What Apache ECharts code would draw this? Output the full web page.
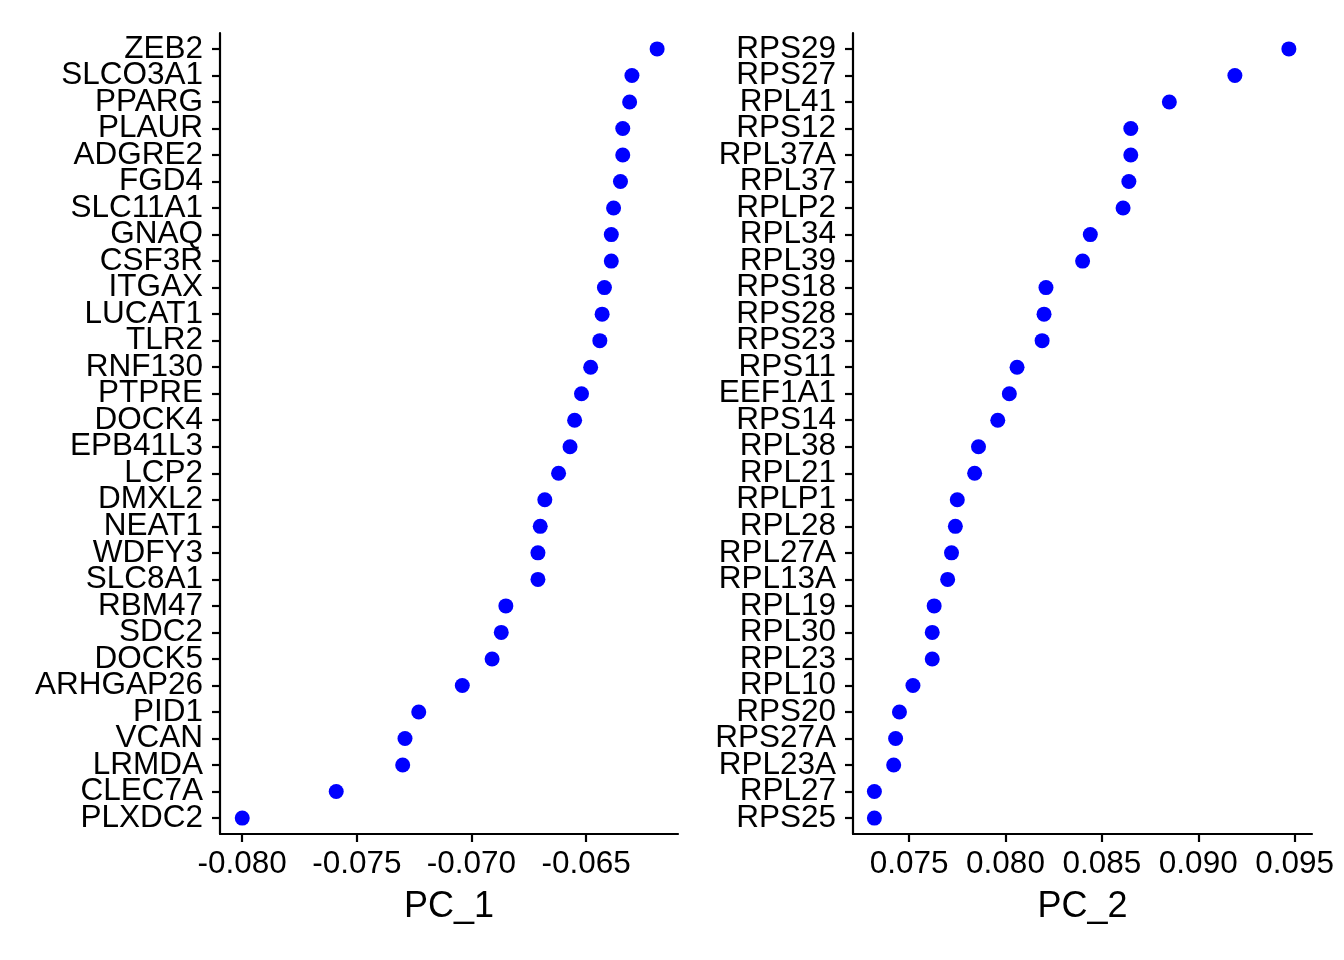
<!DOCTYPE html>
<html>
<head>
    <meta charset="utf-8">
    <script src="https://cdn.jsdelivr.net/npm/echarts@6/dist/echarts.min.js"></script>
    <style>
        body { margin: 0; background: #fff; }
    </style>
</head>
<body>
    <div id="main" style="width: 1344px;height:960px;"></div>
    <script type="text/javascript">
        // genes listed top to bottom
        var genes1 = ['ZEB2', 'SLCO3A1', 'PPARG', 'PLAUR', 'ADGRE2', 'FGD4', 'SLC11A1', 'GNAQ', 'CSF3R', 'ITGAX',
            'LUCAT1', 'TLR2', 'RNF130', 'PTPRE', 'DOCK4', 'EPB41L3', 'LCP2', 'DMXL2', 'NEAT1', 'WDFY3',
            'SLC8A1', 'RBM47', 'SDC2', 'DOCK5', 'ARHGAP26', 'PID1', 'VCAN', 'LRMDA', 'CLEC7A', 'PLXDC2'];
        var pc1 = [-0.0619, -0.0630, -0.0631, -0.0634, -0.0634, -0.0635, -0.0638, -0.0639, -0.0639, -0.0642,
            -0.0643, -0.0644, -0.0648, -0.0652, -0.0655, -0.0657, -0.0662, -0.0668, -0.0670, -0.0671,
            -0.0671, -0.0685, -0.0687, -0.0691, -0.0704, -0.0723, -0.0729, -0.0730, -0.0759, -0.0800];

        var genes2 = ['RPS29', 'RPS27', 'RPL41', 'RPS12', 'RPL37A', 'RPL37', 'RPLP2', 'RPL34', 'RPL39', 'RPS18',
            'RPS28', 'RPS23', 'RPS11', 'EEF1A1', 'RPS14', 'RPL38', 'RPL21', 'RPLP1', 'RPL28', 'RPL27A',
            'RPL13A', 'RPL19', 'RPL30', 'RPL23', 'RPL10', 'RPS20', 'RPS27A', 'RPL23A', 'RPL27', 'RPS25'];
        var pc2 = [0.0947, 0.0919, 0.0885, 0.0865, 0.0865, 0.0864, 0.0861, 0.0844, 0.0840, 0.0821,
            0.0820, 0.0819, 0.0806, 0.0802, 0.0796, 0.0786, 0.0784, 0.0775, 0.0774, 0.0772,
            0.0770, 0.0763, 0.0762, 0.0762, 0.0752, 0.0745, 0.0743, 0.0742, 0.0732, 0.0732];

        var ticks1 = [-0.080, -0.075, -0.070, -0.065];
        var ticks2 = [0.075, 0.080, 0.085, 0.090, 0.095];

        var font = 'Liberation Sans, Arial, Helvetica, sans-serif';
        // ggplot-style discrete padding: 0.6 of a row at each end
        var yMin = -0.6, yMax = genes1.length - 0.4;
        // the two end values are blanks, so echarts' min/max-label check drops them and not a gene
        var rowIdx = [yMin].concat(genes1.map(function (g, i) { return i; }), [yMax]);

        function xAxisFor(idx, name, min, max, ticks) {
            return {
                type: 'value',
                gridIndex: idx,
                min: min,
                max: max,
                name: name,
                nameLocation: 'middle',
                nameGap: 55,
                nameTextStyle: { fontFamily: font, fontSize: 36, color: '#000' },
                axisLine: { show: true, onZero: false, lineStyle: { color: '#000', width: 2.2 } },
                axisTick: { show: true, length: 8, customValues: ticks, lineStyle: { color: '#000', width: 2.2 } },
                axisLabel: {
                    customValues: ticks,
                    showMinLabel: true,
                    showMaxLabel: true,
                    margin: 14,
                    fontFamily: font, fontSize: 31.5, color: '#000',
                    formatter: function (v) { return v.toFixed(3); }
                },
                splitLine: { show: false }
            };
        }

        function yAxisFor(idx, names) {
            return {
                type: 'value',
                gridIndex: idx,
                inverse: true,
                min: yMin,
                max: yMax,
                axisLine: { show: true, onZero: false, lineStyle: { color: '#000', width: 2.2 } },
                axisTick: { show: true, length: 8, customValues: rowIdx, lineStyle: { color: '#000', width: 2.2 } },
                axisLabel: {
                    customValues: rowIdx,
                    showMinLabel: false,
                    showMaxLabel: false,
                    margin: 17,
                    fontFamily: font, fontSize: 31.5, color: '#000',
                    formatter: function (v) {
                        var r = Math.round(v);
                        return Math.abs(v - r) < 1e-6 ? names[r] : '';
                    }
                },
                splitLine: { show: false }
            };
        }

        var myChart = echarts.init(document.getElementById('main'));

        myChart.setOption({
            backgroundColor: '#fff',
            animation: false,
            grid: [
                { left: 220, right: 666, top: 33, bottom: 126 },
                { left: 853, right: 32, top: 33, bottom: 126 }
            ],
            xAxis: [
                xAxisFor(0, 'PC_1', -0.08097, -0.06099, ticks1),
                xAxisFor(1, 'PC_2', 0.07209, 0.09590, ticks2)
            ],
            yAxis: [
                yAxisFor(0, genes1),
                yAxisFor(1, genes2)
            ],
            series: [
                {
                    type: 'scatter',
                    xAxisIndex: 0,
                    yAxisIndex: 0,
                    symbolSize: 15,
                    itemStyle: { color: '#0000ff', opacity: 1 },
                    data: pc1.map(function (v, i) { return [v, i]; })
                },
                {
                    type: 'scatter',
                    xAxisIndex: 1,
                    yAxisIndex: 1,
                    symbolSize: 15,
                    itemStyle: { color: '#0000ff', opacity: 1 },
                    data: pc2.map(function (v, i) { return [v, i]; })
                }
            ]
        });
    </script>
</body>
</html>
